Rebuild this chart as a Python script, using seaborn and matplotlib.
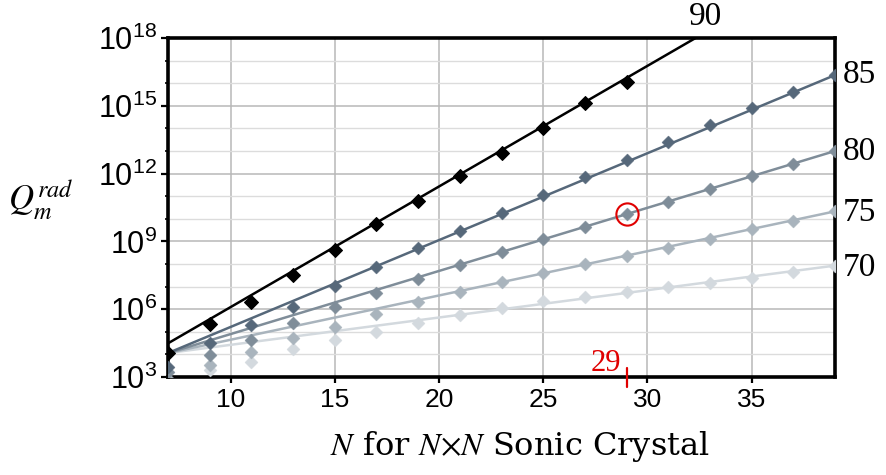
import numpy as np
import pandas as pd
import matplotlib
matplotlib.use("Agg")
import matplotlib.pyplot as plt
import matplotlib.transforms as mtransforms
from matplotlib.ticker import FixedLocator, NullLocator, NullFormatter
import seaborn as sns

# ---------------- data (log10 of Q_m^rad) ----------------
N_all = [7, 9, 11, 13, 15, 17, 19, 21, 23, 25, 27, 29, 31, 33, 35, 37, 39]
N_90 = [7, 9, 11, 13, 15, 17, 19, 21, 23, 25, 27, 29]

log_q90 = [4.06, 5.35, 6.33, 7.51, 8.62, 9.77, 10.80, 11.89, 12.92, 14.00, 15.11, 16.07]
log_q85 = [3.46, 4.49, 5.30, 6.11, 7.04, 7.86, 8.70, 9.48, 10.24, 11.05, 11.86, 12.60,
           13.41, 14.15, 14.89, 15.62, 16.36]
log_q80 = [3.20, 3.97, 4.64, 5.37, 6.08, 6.70, 7.32, 7.96, 8.54, 9.10, 9.63, 10.21,
           10.76, 11.33, 11.89, 12.42, 13.00]
log_q75 = [2.90, 3.53, 4.12, 4.71, 5.23, 5.77, 6.30, 6.77, 7.22, 7.60, 8.01, 8.34,
           8.73, 9.09, 9.53, 9.92, 10.33]
log_q70 = [2.80, 3.32, 3.68, 4.22, 4.64, 5.00, 5.40, 5.74, 6.04, 6.35, 6.55, 6.74,
           6.97, 7.15, 7.37, 7.66, 7.93]

# straight fit lines: (N, log10 Q) at both ends
fit_N = [7, 39]
fit_90 = [4.49, 21.57]
fit_85 = [4.06, 16.36]
fit_80 = [4.06, 13.00]
fit_75 = [4.06, 10.33]
fit_70 = [4.06, 7.93]

series_labels = ["70", "75", "80", "85", "90"]
series_colors = ["#d3d9de", "#a9b4bd", "#7f8d99", "#56687a", "#000000"]

x_ticks = [10, 15, 20, 25, 30, 35]
y_major_exp = [3, 6, 9, 12, 15, 18]
highlight_N = 29
highlight_series = "80"

# ---------------- build tables ----------------
pts = {"90": (N_90, log_q90), "85": (N_all, log_q85), "80": (N_all, log_q80),
       "75": (N_all, log_q75), "70": (N_all, log_q70)}
fits = {"90": fit_90, "85": fit_85, "80": fit_80, "75": fit_75, "70": fit_70}

pts_df = pd.concat([pd.DataFrame({"N": n, "Q": 10.0 ** np.array(v), "series": k})
                    for k, (n, v) in pts.items()], ignore_index=True)
fit_df = pd.concat([pd.DataFrame({"N": fit_N, "Q": 10.0 ** np.array(v), "series": k})
                    for k, v in fits.items()], ignore_index=True)
palette = dict(zip(series_labels, series_colors))

# ---------------- style ----------------
sns.set_theme(style="white")
plt.rcParams["font.family"] = ["Liberation Sans", "DejaVu Sans"]
plt.rcParams["mathtext.fontset"] = "stix"
plt.rcParams["text.color"] = "black"
plt.rcParams["xtick.labelcolor"] = "black"
plt.rcParams["ytick.labelcolor"] = "black"

fig = plt.figure(figsize=(8.86, 4.75), dpi=100)
ax = fig.add_axes([168 / 886, 1 - 377 / 475, (835 - 168) / 886, (377 - 38) / 475])
ax.set_yscale("log")

for i, lab in enumerate(series_labels):
    z = 3 + i * 2
    sub_fit = fit_df[fit_df.series == lab]
    sns.lineplot(data=sub_fit, x="N", y="Q", color=palette[lab], linewidth=1.8,
                 ax=ax, legend=False, zorder=z)
    sub_pts = pts_df[pts_df.series == lab]
    if lab == "90":
        sns.scatterplot(data=sub_pts, x="N", y="Q", color=palette[lab], marker="D",
                        s=50, edgecolor="#000000", linewidth=0.8, ax=ax,
                        legend=False, zorder=z + 1)
    else:
        sns.scatterplot(data=sub_pts, x="N", y="Q", color=palette[lab], marker="D",
                        s=44, edgecolor=palette[lab], linewidth=0.3, ax=ax,
                        legend=False, zorder=z + 1)

ax.set_xlim(7, 39)
ax.set_ylim(1e3, 1e18)

ax.set_xticks(x_ticks)
ax.set_xticklabels([str(t) for t in x_ticks])
ax.xaxis.set_minor_locator(NullLocator())
ax.yaxis.set_major_locator(FixedLocator([10.0 ** e for e in y_major_exp]))
ax.set_yticklabels([r"$\mathregular{10^{%d}}$" % e for e in y_major_exp])
ax.yaxis.set_minor_locator(FixedLocator([10.0 ** e for e in range(3, 19) if e % 3]))
ax.yaxis.set_minor_formatter(NullFormatter())

ax.grid(which="major", axis="both", color="#b8b8b8", linewidth=1.1, zorder=0)
ax.grid(which="minor", axis="y", color="#dcdcdc", linewidth=1.0, zorder=0)
ax.set_axisbelow(True)

for sp in ax.spines.values():
    sp.set_visible(True)
    sp.set_color("black")
    sp.set_linewidth(2.6)

ax.tick_params(axis="y", which="major", left=True, direction="out", length=5,
               width=1.6, labelsize=22, pad=3, color="black", labelcolor="black")
ax.tick_params(axis="y", which="minor", left=True, direction="out", length=2.5,
               width=1.2, color="black")
ax.tick_params(axis="x", which="major", bottom=True, direction="out", length=4,
               width=1.6, labelsize=19, pad=4, color="black", labelcolor="black")
ax.set_xlabel("")
ax.set_ylabel("")

# highlight
hx = highlight_N
hy = 10.0 ** pts[highlight_series][1][pts[highlight_series][0].index(hx)]
ax.plot([hx], [hy], marker="o", markersize=16, markerfacecolor="none",
        markeredgecolor="#e00000", markeredgewidth=1.5, zorder=20)
trans = mtransforms.blended_transform_factory(ax.transData, ax.transAxes)
ax.plot([hx, hx], [0.028, -0.03], transform=trans, color="#e00000", lw=1.6,
        clip_on=False, zorder=20)
ax.text(hx - 0.25, 0.018, str(hx), transform=trans, color="#e00000", ha="right",
        va="baseline", fontsize=22, family=["Liberation Serif"], zorder=20)

# series end labels
label_pos = {"90": (705, 17, "center"), "85": (843, 75, "left"), "80": (843, 152, "left"),
             "75": (843, 213, "left"), "70": (843, 268, "left")}
for lab, (px, py, ha) in label_pos.items():
    fig.text(px / 886, 1 - py / 475, lab, ha=ha, va="center", fontsize=24,
             family=["Liberation Serif"], color="black")

# axis titles
fig.text(41 / 886, 1 - 200 / 475, r"$Q_m^{rad}$", ha="center", va="center",
         fontsize=25, color="black")
fig.text(520 / 886, 1 - 446 / 475, r"$N$ for $N{\times}N$ Sonic Crystal",
         ha="center", va="center", fontsize=23, family=["DejaVu Serif"], color="black")

fig.savefig("out.png", dpi=100)
